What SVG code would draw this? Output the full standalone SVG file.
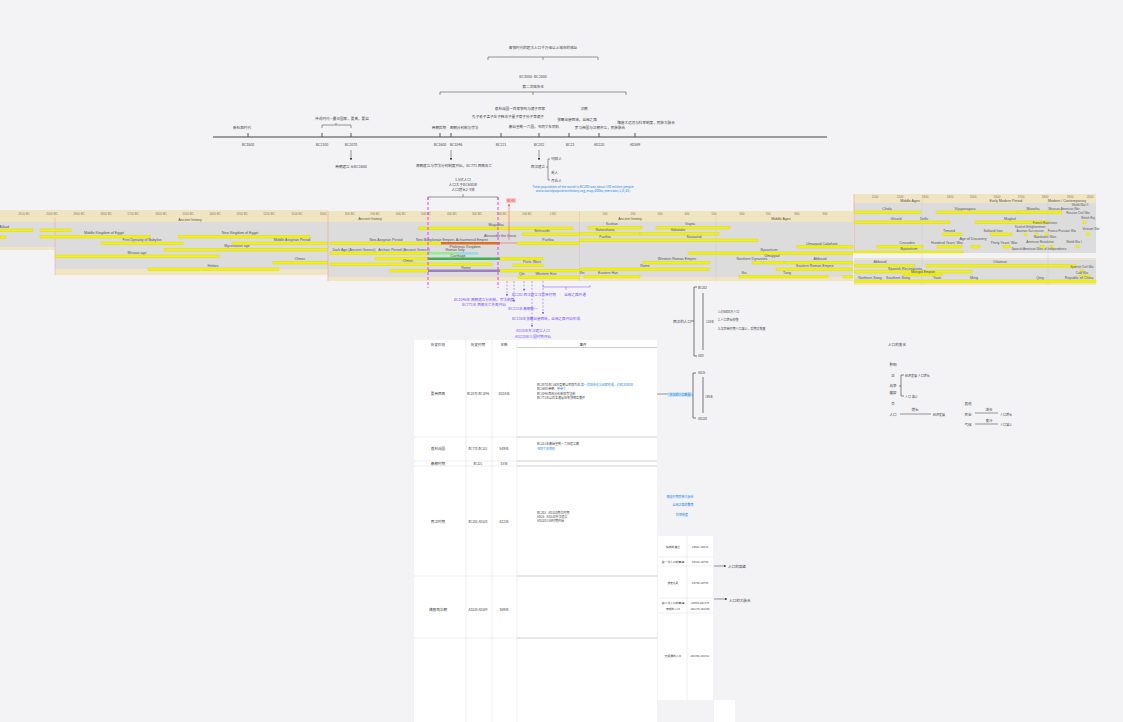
<svg xmlns="http://www.w3.org/2000/svg" width="1123" height="722" viewBox="0 0 1123 722">
<defs>
<style>
.t{font-family:"Noto Sans CJK SC","Liberation Sans",sans-serif;font-size:3.6px;fill:#444;text-anchor:middle}
.s{text-anchor:start}
.sm{font-size:3px}
.b{font-family:"Liberation Sans","Noto Sans CJK SC",sans-serif;font-size:3.6px;fill:#555;text-anchor:middle}
.sc{font-family:"Liberation Sans",sans-serif;font-size:3px;fill:#8a7a50;text-anchor:middle}
.bl{fill:#1e88e5}
.pu{fill:#7c4dff}
.bar{fill:#f4f400;stroke:#cfcc00;stroke-width:0.3}
.tan{fill:#f0e5c3}
.gry{fill:#dcdcdc}
.ax{stroke:#444;stroke-width:1.2;fill:none}
.ln{stroke:#555;stroke-width:0.6;fill:none}
.pd{stroke:#e040fb;stroke-width:1;stroke-dasharray:3 2;fill:none}
.ud{stroke:#8c6cff;stroke-width:0.6;stroke-dasharray:2 1.5;fill:none}
.cell{stroke:#e4e4e4;stroke-width:0.6;fill:none}
.sep{stroke:#cfcfcf;stroke-width:1;fill:none}
</style>
<marker id="ah" viewBox="0 0 6 6" refX="5" refY="3" markerWidth="4" markerHeight="4" orient="auto"><path d="M0,0L6,3L0,6z" fill="#444"/></marker>
<marker id="ap" viewBox="0 0 6 6" refX="5" refY="3" markerWidth="4" markerHeight="4" orient="auto"><path d="M0,0L6,3L0,6z" fill="#8c6cff"/></marker>
<marker id="ar" viewBox="0 0 6 6" refX="5" refY="3" markerWidth="4" markerHeight="4" orient="auto"><path d="M0,0L6,3L0,6z" fill="#f06060"/></marker>
</defs>
<rect width="1123" height="722" fill="#f3f3f5"/>

<g id="title">
<text class="t" x="543" y="49">青铜时代的超大人口千万级以上城市的城址</text>
<path class="ln" d="M488,60V57H598V60M543,57V60"/>
<text class="t" x="533" y="78">BC3000 -BC2000</text>
<text class="t" x="533" y="88">第二次城市化</text>
<path class="ln" d="M440,95V92H626V95M533,92V95"/>
</g>

<g id="axis">
<line class="ax" x1="213" y1="137" x2="827" y2="137"/>
<path class="ln" d="M248,133V137M322,133V137M351,133V137M440,133V137M451,133V137M501,133V137M539,133V137M569,133V137M599,133V137M635,133V137" style="stroke-width:1"/>
<text class="t" x="242" y="129">新石器时代</text>
<text class="t" x="248" y="146">BC3500</text>
<text class="t" x="342" y="120">传说时代—最早国家，夏禹，夏启</text>
<path class="ln" d="M322,128V125H351V128M336,125V123"/>
<text class="t" x="322" y="146">BC2100</text>
<text class="t" x="351" y="146">BC2070</text>
<text class="t" x="439" y="129">商朝后期</text>
<text class="t" x="464" y="129">周朝分封制与宗法</text>
<text class="t" x="440" y="146">BC1600</text>
<text class="t" x="456" y="146">BC1046</text>
<text class="t" x="520" y="110">春秋战国一百家争鸣与诸子百家</text>
<text class="t" x="508" y="118">孔子老子孟子庄子韩非子墨子荀子孙子等诸子</text>
<text class="t" x="534" y="128">秦始皇统一六国，书同文车同轨</text>
<text class="t" x="501" y="146">BC221</text>
<text class="t" x="539" y="146">BC202</text>
<text class="t" x="570" y="146">BC23</text>
<text class="t" x="599" y="146">AD220</text>
<text class="t" x="635" y="146">AD589</text>
<text class="t" x="584" y="110">汉朝</text>
<text class="t" x="577" y="121">张骞出使西域，丝绸之路</text>
<text class="t" x="600" y="129">罗马帝国与汉朝并立，民族融合</text>
<text class="t" x="646" y="124">隋唐大运河与科举制度，民族大融合</text>
<path class="ln" d="M351,150V160" marker-end="url(#ah)"/>
<text class="t" x="351" y="168">商朝建立 从BC1600</text>
<path class="ln" d="M451,150V160" marker-end="url(#ah)"/>
<text class="t" x="454" y="167">周朝建立与宗法分封制度开始，BC771 西周灭亡</text>
<path class="ln" d="M539,150V160" marker-end="url(#ah)"/>
<text class="t" x="538" y="168">西汉建立</text>
<path class="ln" d="M550,159H548V180H550M548,167H546"/>
<text class="t s" x="551" y="160">匈奴人</text>
<text class="t s" x="551" y="174">羌人</text>
<text class="t s" x="551" y="182">月氏人</text>
</g>

<g id="popnote">
<text class="t" x="463" y="181">1.5亿人口</text>
<text class="t" x="463" y="186">人口大于BC600年</text>
<text class="t" x="463" y="191">人口增长2-3倍</text>
<path class="ln" d="M428,200V197H498V200M463,197V194"/>
<text class="t bl" x="583" y="188" style="font-size:3.2px">Total population of the world in BC200 was about 150 million people</text>
<text class="t bl" x="583" y="192" style="font-size:3.2px">www.worldpopulationhistory.org/map/200bc/mercator/1/0/25/</text>
<rect x="506" y="198" width="10" height="5" fill="#f8c8c8"/>
<text class="t" x="511" y="202" style="fill:#e53935;font-size:3.2px">BC43</text>
</g>

<g id="panelA">
<rect class="tan" x="0" y="210" width="328" height="7"/>
<rect class="tan" x="0" y="217" width="55" height="5"/>
<rect class="gry" x="0" y="222" width="55" height="25"/>
<rect class="tan" x="0" y="247" width="55" height="3"/>
<rect class="tan" x="55" y="217" width="273" height="5"/>
<rect class="gry" x="55" y="222" width="273" height="47"/>
<rect class="tan" x="55" y="269" width="273" height="6"/>
<line x1="55" y1="217" x2="55" y2="275" stroke="#e8a0a0" stroke-width="0.5"/>
<text class="sc" x="24" y="214.5">2100 BC</text><text class="sc" x="52" y="214.5">2000 BC</text><text class="sc" x="79" y="214.5">1900 BC</text><text class="sc" x="106" y="214.5">1800 BC</text><text class="sc" x="133" y="214.5">1700 BC</text><text class="sc" x="161" y="214.5">1600 BC</text><text class="sc" x="188" y="214.5">1500 BC</text><text class="sc" x="215" y="214.5">1400 BC</text><text class="sc" x="242" y="214.5">1300 BC</text><text class="sc" x="269" y="214.5">1200 BC</text><text class="sc" x="297" y="214.5">1100 BC</text><text class="sc" x="323" y="214.5">1000</text>
<text class="b" x="190" y="221">Ancient history</text>
<text class="b s" x="4" y="228">Akkad</text>
<rect class="bar" x="0" y="229" width="33" height="2.5"/><rect class="bar" x="40" y="229" width="31" height="2.5"/><rect class="bar" x="0" y="236" width="6" height="2.5"/>
<text class="b" x="104" y="234">Middle Kingdom of Egypt</text><rect class="bar" x="40" y="235.5" width="110" height="2.5"/>
<text class="b" x="240" y="234">New Kingdom of Egypt</text><rect class="bar" x="178" y="235.5" width="132" height="2.5"/>
<text class="b" x="142" y="240.5">First Dynasty of Babylon</text><rect class="bar" x="101" y="242" width="82" height="2.5"/>
<text class="b" x="292" y="240.5">Middle Assyrian Period</text><rect class="bar" x="232" y="242" width="96" height="2.5"/>
<text class="b" x="237" y="247">Mycenaean age</text><rect class="bar" x="164" y="248.5" width="164" height="2.5"/>
<text class="b" x="137" y="253.5">Minoan age</text><rect class="bar" x="55" y="255" width="164" height="2.5"/>
<text class="b" x="300" y="260">Olmec</text><rect class="bar" x="273" y="261.5" width="55" height="2.5"/>
<text class="b" x="213" y="266.5">Hittites</text><rect class="bar" x="148" y="268" width="131" height="2.5"/>
</g>

<g id="panelB">
<rect class="tan" x="328" y="211" width="252" height="11"/>
<rect class="gry" x="328" y="222" width="252" height="55"/>
<rect class="tan" x="328" y="277" width="252" height="4"/>
<line x1="328" y1="211" x2="328" y2="281" stroke="#e8a0a0" stroke-width="0.6"/>
<line x1="580" y1="211" x2="580" y2="281" stroke="#e8a0a0" stroke-width="0.6"/>
<text class="sc" x="350" y="214.5">800 BC</text><text class="sc" x="375" y="214.5">700 BC</text><text class="sc" x="401" y="214.5">600 BC</text><text class="sc" x="426" y="214.5">500 BC</text><text class="sc" x="452" y="214.5">400 BC</text><text class="sc" x="477" y="214.5">300 BC</text><text class="sc" x="502" y="214.5">200 BC</text><text class="sc" x="527" y="214.5">100 BC</text><text class="sc" x="553" y="214.5">1 BC</text>
<text class="b" x="370" y="220">Ancient history</text>
<text class="b" x="496" y="225.5">Magadha</text><rect class="bar" x="418" y="227" width="155" height="2.5"/>
<text class="b" x="542" y="231.5">Seleucids</text><rect class="bar" x="522" y="233" width="58" height="2.5"/>
<text class="b" x="500" y="237">Alexander the Great</text>
<text class="b" x="386" y="240.5">Neo-Assyrian Period</text>
<text class="b" x="452" y="240.5">Neo-Babylonian Empire, Achaemenid Empire</text>
<text class="b" x="548" y="240.5">Parthia</text>
<rect class="bar" x="330" y="242" width="111" height="2.5"/>
<rect x="441" y="242" width="59" height="2.5" fill="#e0701c"/>
<line x1="500" y1="243" x2="517" y2="243" stroke="#f06060" stroke-width="0.6"/>
<rect class="bar" x="517" y="242" width="63" height="2.5"/>
<text class="b" x="465" y="247.5">Ptolemaic Kingdom</text>
<text class="b" x="354" y="251">Dark Age (Ancient Greece)</text><rect class="bar" x="330" y="252" width="54" height="2.5"/>
<text class="b" x="404" y="251">Archaic Period (Ancient Greece)</text><rect class="bar" x="385" y="252" width="43" height="2.5"/>
<text class="b" x="455" y="251">Roman Italy</text><rect x="428" y="252" width="50" height="2.5" fill="#90ee90"/><rect x="458" y="252" width="20" height="2.5" fill="#9fd8ee"/>
<text class="b" x="458" y="257">Carthage</text>
<rect class="bar" x="375" y="257.5" width="53" height="2.5"/><rect x="428" y="257.5" width="72" height="2.5" fill="#3fb34f"/><rect class="bar" x="500" y="257.5" width="43" height="2.5"/>
<text class="b" x="408" y="262">Olmec</text><rect class="bar" x="330" y="263" width="162" height="2.5"/>
<text class="b" x="532" y="262.5">Punic Wars</text><rect class="bar" x="513" y="264" width="30" height="2.5"/>
<text class="b" x="466" y="268.5">Rome</text>
<rect class="bar" x="390" y="269.5" width="38" height="2.5"/><rect x="428" y="269.5" width="72" height="2.5" fill="#9e7fc0"/><rect class="bar" x="500" y="269.5" width="80" height="2.5"/>
<text class="b" x="522" y="274.5">Qin</text><text class="b" x="546" y="274.5">Western Han</text><rect class="bar" x="518" y="276" width="62" height="2.5"/>
</g>

<g id="panelC">
<rect class="tan" x="580" y="211" width="273" height="11"/>
<rect class="gry" x="580" y="222" width="273" height="55"/>
<rect class="tan" x="580" y="277" width="273" height="4"/>
<line x1="716" y1="216" x2="716" y2="281" stroke="#c8c8c8" stroke-width="0.4"/>
<text class="sc" x="605" y="214.5">100</text><text class="sc" x="633" y="214.5">200</text><text class="sc" x="660" y="214.5">300</text><text class="sc" x="687" y="214.5">400</text><text class="sc" x="714" y="214.5">500</text><text class="sc" x="742" y="214.5">600</text><text class="sc" x="768" y="214.5">700</text><text class="sc" x="797" y="214.5">800</text><text class="sc" x="825" y="214.5">900</text>
<text class="b" x="630" y="219.5">Ancient history</text><text class="b" x="781" y="219.5">Middle Ages</text>
<text class="b" x="612" y="225">Kushan</text><rect class="bar" x="588" y="226.5" width="54" height="2.5"/>
<text class="b" x="690" y="225">Gupta</text><rect class="bar" x="656" y="226.5" width="74" height="2.5"/>
<text class="b" x="605" y="231">Satavahana</text><rect class="bar" x="580" y="232.5" width="60" height="2.5"/>
<text class="b" x="678" y="231">Vakataka</text><rect class="bar" x="640" y="232.5" width="79" height="2.5"/>
<text class="b" x="605" y="238">Parthia</text><text class="b" x="694" y="238">Sassanid</text><rect class="bar" x="580" y="239" width="178" height="2.5"/>
<text class="b" x="822" y="244.5">Umayyad Caliphate</text><rect class="bar" x="797" y="245.5" width="56" height="2.5"/>
<text class="b" x="769" y="250.5">Byzantium</text><rect class="bar" x="688" y="252" width="165" height="2.5"/>
<text class="b" x="772" y="256.5">Umayyad</text>
<text class="b" x="677" y="260">Western Roman Empire</text><rect class="bar" x="643" y="261.5" width="67" height="2.5"/>
<text class="b" x="752" y="260">Northern Dynasties</text><text class="b" x="820" y="260">Abbasid</text>
<rect class="bar" x="752" y="261.5" width="10" height="2.5"/><rect class="bar" x="763" y="261.5" width="21" height="2.5"/><rect class="bar" x="785" y="261.5" width="68" height="2.5"/>
<text class="b" x="645" y="266.5">Rome</text><rect class="bar" x="580" y="268" width="129" height="2.5"/>
<text class="b" x="815" y="266.5">Eastern Roman Empire</text><rect class="bar" x="776" y="268" width="77" height="2.5"/>
<text class="b" x="582" y="274">Xin</text><text class="b" x="608" y="274">Eastern Han</text><rect class="bar" x="584" y="275.5" width="56" height="2.5"/>
<text class="b" x="744" y="274">Sui</text><text class="b" x="787" y="274">Tang</text><rect class="bar" x="739" y="275.5" width="89" height="2.5"/><rect class="bar" x="843" y="275.5" width="10" height="2.5"/>
</g>

<g id="panelD">
<rect class="tan" x="854" y="194" width="242" height="9"/>
<rect class="gry" x="854" y="203" width="242" height="50"/>
<rect class="tan" x="854" y="258" width="242" height="1.5"/>
<rect class="gry" x="854" y="259.5" width="242" height="21.5"/>
<rect class="tan" x="854" y="281" width="242" height="4"/>
<line x1="854" y1="194" x2="854" y2="253" stroke="#e8a0a0" stroke-width="0.6"/>
<line x1="922" y1="199" x2="922" y2="285" stroke="#c8c8c8" stroke-width="0.4"/>
<line x1="1048" y1="199" x2="1048" y2="285" stroke="#c8c8c8" stroke-width="0.4"/>
<text class="sc" x="875" y="197.5">1100</text><text class="sc" x="900" y="197.5">1200</text><text class="sc" x="925" y="197.5">1300</text><text class="sc" x="950" y="197.5">1400</text><text class="sc" x="973" y="197.5">1500</text><text class="sc" x="997" y="197.5">1600</text><text class="sc" x="1021" y="197.5">1700</text><text class="sc" x="1045" y="197.5">1800</text><text class="sc" x="1070" y="197.5">1900</text><text class="sc" x="1090" y="197.5">2000</text>
<text class="b" x="910" y="202.3">Middle Ages</text><text class="b" x="1006" y="202.3">Early Modern Period</text><text class="b" x="1067" y="202.3">Modern / Contemporary</text>
<text class="b" x="1080" y="206" style="font-size:3px">World War II</text>
<text class="b" x="887" y="210">Chola</text><rect class="bar" x="854" y="211" width="67" height="2.5"/>
<text class="b" x="965" y="210">Vijayanagara</text><rect class="bar" x="936" y="211" width="93" height="2.5"/>
<text class="b" x="1033" y="210">Maratha</text><rect class="bar" x="1017" y="211" width="43" height="2.5"/>
<text class="b" x="1064" y="210" style="font-size:3px">Mexican-American War</text><rect class="bar" x="1059" y="211" width="3" height="2.5"/>
<text class="b" x="1078" y="214" style="font-size:3px">Russian Civil War</text>
<text class="b" x="896" y="219.5">Ghurid</text><text class="b" x="924" y="219.5">Delhi</text><rect class="bar" x="854" y="221" width="96" height="2.5"/>
<text class="b" x="1010" y="219.5">Mughal</text><rect class="bar" x="975" y="221" width="73" height="2.5"/>
<text class="b" x="1088" y="219" style="font-size:3px">British Raj</text><rect class="bar" x="1083" y="221" width="3" height="2.5"/>
<text class="b" x="1045" y="223.5" style="font-size:3px">French Revolution</text>
<text class="b" x="1030" y="227.5" style="font-size:3px">Scottish Enlightenment</text>
<text class="b" x="949" y="231.5">Timurid</text><rect class="bar" x="942" y="233" width="20" height="2.5"/>
<text class="b" x="993" y="231.5">Safavid Iran</text><rect class="bar" x="990" y="233" width="22" height="2.5"/>
<text class="b" x="1030" y="232" style="font-size:3px">Austrian Succession</text><text class="b" x="1062" y="232" style="font-size:3px">Franco-Prussian War</text>
<rect class="bar" x="1024" y="233" width="3" height="2.5"/><rect class="bar" x="1035" y="233" width="3" height="2.5"/><rect class="bar" x="1045" y="233" width="3" height="2.5"/>
<text class="b" x="1091" y="230" style="font-size:3px">Vietnam War</text><rect class="bar" x="1086" y="233" width="4" height="2.5"/>
<text class="b" x="1045" y="238" style="font-size:3px">Napoleonic Wars</text>
<text class="b" x="907" y="244">Crusades</text><rect class="bar" x="877" y="245.5" width="46" height="2.5"/>
<text class="b" x="947" y="244">Hundred Years' War</text><rect class="bar" x="937" y="245.5" width="25" height="2.5"/>
<text class="b" x="973" y="240">Age of Discovery</text><rect class="bar" x="971" y="245.5" width="9" height="2.5"/>
<text class="b" x="1004" y="244">Thirty Years' War</text><rect class="bar" x="1003" y="245.5" width="7" height="2.5"/>
<text class="b" x="1040" y="243" style="font-size:3px">American Revolution</text><rect class="bar" x="1040" y="245.5" width="4" height="2.5"/><rect class="bar" x="1050" y="245.5" width="3" height="2.5"/>
<text class="b" x="1074" y="243" style="font-size:3px">World War I</text><rect class="bar" x="1076" y="245.5" width="3" height="2.5"/>
<text class="b" x="909" y="249.5">Byzantium</text><rect class="bar" x="854" y="251" width="109" height="2"/>
<text class="b" x="1039" y="249.5" style="font-size:3px">Spanish American Wars of Independence</text>
<text class="b" x="880" y="263">Abbasid</text><rect class="bar" x="854" y="264.5" width="61" height="2.5"/>
<text class="b" x="1000" y="263">Ottoman</text><rect class="bar" x="926" y="264.5" width="150" height="2.5"/>
<text class="b" x="1082" y="267.5" style="font-size:3px">Spanish Civil War</text><rect class="bar" x="1080" y="269.5" width="3" height="2.5"/>
<text class="b" x="905" y="269.5">Spanish Reconquista</text><rect class="bar" x="854" y="270.5" width="118" height="2.5"/>
<text class="b" x="923" y="272.5">Mongol Empire</text><rect class="bar" x="903" y="274" width="39" height="2"/>
<text class="b" x="1082" y="273.5" style="font-size:3px">Cold War</text><rect class="bar" x="1079" y="275" width="11" height="2"/>
<text class="b" x="870" y="279">Northern Song</text><text class="b" x="898" y="279">Southern Song</text><text class="b" x="937" y="279">Yuan</text><text class="b" x="974" y="279">Ming</text><text class="b" x="1040" y="279">Qing</text><text class="b" x="1079" y="279">Republic of China</text>
<rect class="bar" x="854" y="280" width="242" height="2.5"/>
</g>

<g id="connectors">
<path class="pd" d="M428,197V288M498,197V288"/>
<path d="M509,240V204" stroke="#f06060" stroke-width="0.6" marker-end="url(#ar)" fill="none"/>
<path class="ud" d="M507,281V296" marker-end="url(#ap)"/>
<path class="ud" d="M514,281V302" marker-end="url(#ap)"/>
<path class="ud" d="M524,281V291" marker-end="url(#ap)"/>
<path class="ud" d="M532,281V327" marker-end="url(#ap)"/>
<path class="ud" d="M543,281V314" marker-end="url(#ap)"/>
<path d="M543,285V287H590V285M566,287V290" stroke="#8c6cff" stroke-width="0.6" fill="none"/>
<path class="ln" d="M578,394H668"/>
<path class="ln" d="M714,566H726" marker-end="url(#ah)"/>
<path class="ln" d="M714,599H727" marker-end="url(#ah)"/>
</g>

<g id="purpleNotes">
<text class="t pu" x="484" y="301">BC1046年 周朝建立分封制，宗法制度</text>
<text class="t pu" x="484" y="306">BC771年 西周灭亡东周开始</text>
<text class="t pu" x="534" y="296">BC202 西汉建立汉武帝时期</text>
<text class="t pu" x="575" y="296">丝绸之路开通</text>
<text class="t pu" x="523" y="310">BC221年 秦朝统一</text>
<text class="t pu" x="546" y="320">BC138年张骞出使西域，丝绸之路开始形成</text>
<text class="t pu" x="533" y="332">AD25年东汉建立人口</text>
<text class="t pu" x="533" y="338">AD220年三国时期开始</text>
</g>

<g id="table">
<rect x="414" y="340" width="243" height="382" fill="#ffffff"/>
<path class="cell" d="M466,340V722M492,340V722M517,340V722"/>
<path class="cell" d="M414,437H517M414,461H517M414,466H517M414,576H517M414,638H517"/>
<path class="sep" d="M517,347.5H657M517,437H657M517,461H657M517,466H657M517,576H657M517,638H657"/>
<text class="t" x="438" y="345.5">历史阶段</text><text class="t" x="478" y="345.5">历史时期</text><text class="t" x="504" y="345.5">年数</text><text class="t" x="583" y="345.5">事件</text>
<text class="t" x="438" y="394.5">夏商西周</text><text class="t sm" x="478" y="394.5">BC2070-BC1046</text><text class="t" x="504" y="394.5">1024年</text>
<text class="t s sm" x="537" y="386">BC2070-BC1600夏朝以农耕为主</text><text class="t s sm bl" x="578" y="386">—第一次城市化与国家形成，约BC3000年</text>
<text class="t s sm" x="537" y="390">BC1600 商朝-</text><text class="t s sm bl" x="557" y="390">甲骨文</text>
<text class="t s sm" x="537" y="394.5">BC1046 西周分封制和宗法制</text>
<text class="t s sm" x="537" y="399">BC771年以后各诸侯国争霸相互兼并</text>
<text class="t" x="438" y="449.5">春秋战国</text><text class="t sm" x="478" y="449.5">BC770-BC221</text><text class="t" x="504" y="449.5">549年</text>
<text class="t s sm" x="537" y="445">BC221年秦始皇统一六国建立秦</text>
<text class="t s sm bl" x="537" y="450">书同文车同轨</text>
<text class="t" x="438" y="464.5">秦朝时期</text><text class="t sm" x="478" y="464.5">BC221</text><text class="t" x="504" y="464.5">15年</text>
<text class="t" x="438" y="522.5">两汉时期</text><text class="t sm" x="478" y="522.5">BC202-AD220</text><text class="t" x="504" y="522.5">422年</text>
<text class="t s sm" x="537" y="514">BC202 - AD220两汉时期</text>
<text class="t s sm" x="537" y="518">AD25 - AD220东汉建立</text>
<text class="t s sm" x="537" y="522">AD220三国时期开始</text>
<text class="t" x="438" y="610.5">魏晋南北朝</text><text class="t sm" x="478" y="610.5">AD220-AD589</text><text class="t" x="504" y="610.5">369年</text>
</g>

<g id="braceWestHan">
<text class="t" x="682" y="322.5">西汉的人口</text>
<path class="ln" d="M697,287H694V356H697M694,321H691" style="stroke-width:0.8"/>
<path class="ln" d="M703,293V350" style="stroke-width:0.8"/>
<text class="t s sm" x="698" y="289">BC202</text>
<text class="t s sm" x="698" y="357">AD8</text>
<text class="t s sm" x="706" y="322.5">210年</text>
<text class="t s sm" x="718" y="312.5">1.约6000万人口</text>
<text class="t s sm" x="718" y="320.5">2.人口增长较快</text>
<text class="t s sm" x="718" y="329.5">3.汉武帝时期人口减少，后期又恢复</text>
</g>
<g id="braceEastHan">
<rect x="668" y="392.5" width="24" height="4" fill="#bcdcf8"/>
<text class="t sm bl" x="680" y="395.7">东汉的人口数量</text>
<path class="ln" d="M696,373H693V418H696M693,395H692" style="stroke-width:0.8"/>
<path class="ln" d="M703,377V413" style="stroke-width:0.8"/>
<text class="t s sm" x="698" y="374">AD25</text>
<text class="t s sm" x="698" y="419.5">AD220</text>
<text class="t s sm" x="705" y="397.5">195年</text>
</g>

<g id="smallTable">
<text class="t sm bl" x="680" y="498">隋唐时期民族大融合</text>
<text class="t sm bl" x="683" y="506">丝绸之路的繁荣</text>
<text class="t sm bl" x="682" y="516">科举制度</text>
<rect x="658" y="536" width="55" height="164" fill="#ffffff"/>
<path class="cell" d="M687,536V700M658,557H713M658,566H713M658,598H713M658,613H713"/>
<text class="t" x="673" y="547.5" style="font-size:2.8px">隋朝的建立</text><text class="t" x="700" y="547.5" style="font-size:2.6px">AD581-AD618</text>
<text class="t" x="673" y="562.5" style="font-size:2.8px">第一次人口的高峰</text><text class="t" x="700" y="562.5" style="font-size:2.6px">AD618-AD755</text>
<text class="t" x="673" y="583.5" style="font-size:2.8px">安史之乱</text><text class="t" x="700" y="583.5" style="font-size:2.6px">AD755-AD763</text>
<text class="t" x="673" y="604" style="font-size:2.8px">第二次人口的高峰</text><text class="t" x="700" y="604" style="font-size:2.6px">AD960-AD1279</text>
<text class="t" x="673" y="610" style="font-size:2.8px">宋朝的人口</text><text class="t" x="700" y="610" style="font-size:2.6px">AD1279-AD1368</text>
<text class="t" x="673" y="656.5" style="font-size:2.8px">元明清的人口</text><text class="t" x="700" y="656.5" style="font-size:2.6px">AD1368-AD1911</text>
<rect x="714" y="700" width="21" height="22" fill="#ffffff"/>
<text class="t s" x="728" y="567.5">人口的高峰</text>
<text class="t s" x="729" y="601.5">人口的大融合</text>
</g>

<g id="factors">
<text class="t" x="897" y="345.5">人口的变化</text>
<text class="t" x="893" y="365.5">影响</text>
<text class="t" x="893" y="376.5">正</text>
<path class="ln" d="M904,375H901V396H904M901,386H899" style="stroke-width:0.7"/>
<text class="t s sm" x="905" y="376.5">经济发展 人口增长</text>
<text class="t" x="893" y="386.5">战争</text>
<text class="t" x="893" y="393.5">瘟疫</text>
<text class="t s sm" x="905" y="397.5">人口 减少</text>
<text class="t" x="893" y="404.5">负</text>
<text class="t" x="968" y="404.5">其他</text>
<text class="t" x="893" y="415.5">人口</text>
<path class="ln" d="M900,414H931"/>
<text class="t" x="915" y="410.5">增长</text>
<text class="t s sm" x="933" y="415.5">经济发展</text>
<text class="t" x="968" y="415.5">农业</text>
<path class="ln" d="M975,413H998"/>
<text class="t" x="989" y="410.5">进步</text>
<text class="t s sm" x="1000" y="415.5">人口增长</text>
<text class="t" x="968" y="425.5">气候</text>
<path class="ln" d="M975,424H998"/>
<text class="t" x="989" y="421.5">变冷</text>
<text class="t s sm" x="1000" y="425.5">人口减少</text>
</g>
</svg>
